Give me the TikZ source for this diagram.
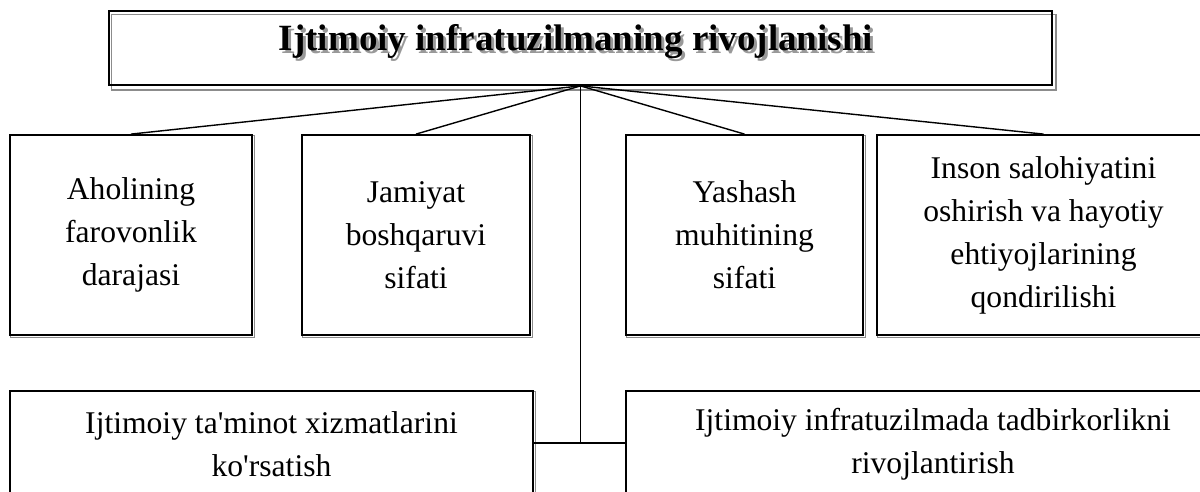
\documentclass[tikz,border=0pt]{standalone}
\usepackage{fontspec}
\setmainfont{Liberation Serif}[Ligatures=TeXOff]
\pgfdeclarelayer{background}
\pgfsetlayers{background,main}
\begin{document}
\begin{tikzpicture}[x=1pt,y=-1pt,
  box/.style={draw=black, line width=1.8pt, align=center, inner sep=0pt,
    font=\fontsize{31.6}{43}\selectfont},
  shadowline/.style={draw=black!45, line width=1.2pt},
  link/.style={draw=black, line width=1.4pt},
  titletext/.style={inner sep=0pt, anchor=base, font=\fontsize{37}{44}\selectfont\bfseries}]
\useasboundingbox (0,0) rectangle (1200,491);
\clip (0,0) rectangle (1200,491);
% title
\node[draw=black, line width=1.8pt, minimum width=943pt, minimum height=74pt, inner sep=0pt] (title) at (580.5,48) {};
\node[titletext, text=black!40] (ttlshadow) at (579,53.5) {Ijtimoiy infratuzilmaning rivojlanishi};
\node[titletext] (ttl) at (576,50) {Ijtimoiy infratuzilmaning rivojlanishi};
\coordinate (hub) at (title.south);
% first row
\node[box, minimum width=242pt, minimum height=200pt] (b1) at (131,235) {Aholining\\farovonlik\\darajasi};
\node[box, minimum width=228pt, minimum height=200pt] (b2) at (416,235) {Jamiyat\\boshqaruvi\\sifati};
\node[box, minimum width=237pt, minimum height=200pt] (b3) at (744.5,235) {Yashash\\muhitining\\sifati};
\node[box, minimum width=333pt, minimum height=200pt] (b4) at (1043.5,235) {Inson salohiyatini\\oshirish va hayotiy\\ehtiyojlarining\\qondirilishi};
% second row
\node[box, minimum width=523pt, minimum height=106pt] (b5) at (271.5,444) {Ijtimoiy ta'minot xizmatlarini\\ko'rsatish};
\node[box, minimum width=614pt, minimum height=106pt] (b6) at (933,444) {Ijtimoiy infratuzilmada tadbirkorlikni\\rivojlantirish};
% shadows
\begin{pgfonlayer}{background}
  \draw[shadowline] ([shift={(3,4)}]title.north west) rectangle ([shift={(3,4)}]title.south east);
  \foreach \b in {b1,b2,b3,b4,b5,b6}{
    \draw[shadowline] ([shift={(1.5,1.5)}]\b.north west) rectangle ([shift={(1.5,1.5)}]\b.south east);
  }
\end{pgfonlayer}
% connectors
\draw[link] (hub) -- (b1.north);
\draw[link] (hub) -- (b2.north);
\draw[link] (hub) -- (b3.north);
\draw[link] (hub) -- (b4.north);
\coordinate (j) at (580.5,443);
\draw[link] (hub) -- (j);
\draw[link] (j -| b5.east) -- (j -| b6.west);
\end{tikzpicture}
\end{document}
